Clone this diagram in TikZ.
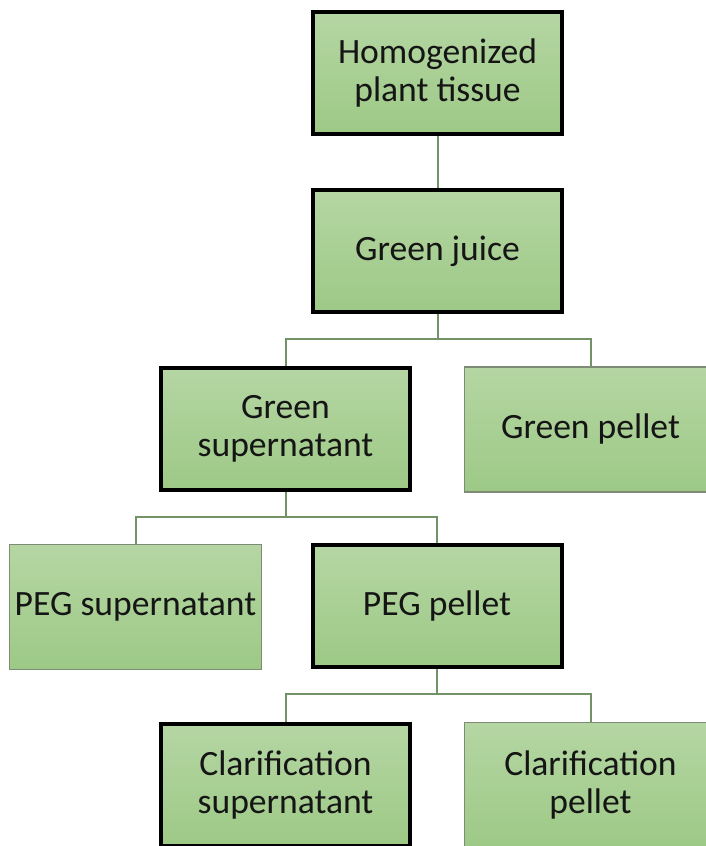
\documentclass[tikz,border=0pt]{standalone}
\usepackage{fontspec}
\setmainfont{Carlito}
\usetikzlibrary{backgrounds}
\definecolor{boxtop}{HTML}{B5D6A3}
\definecolor{boxbot}{HTML}{9DC986}
\definecolor{conncol}{HTML}{739366}
\definecolor{thinborder}{HTML}{7E8C77}
\definecolor{txt}{HTML}{151515}
\tikzset{
  box/.style={rectangle, top color=boxtop, bottom color=boxbot, align=center,
    inner sep=0pt, text=txt, font=\fontsize{26.7pt}{28.5pt}\selectfont},
  thickbox/.style={box, draw=black, line width=3pt, minimum width=186.75pt, minimum height=91.5pt},
  thinbox/.style={box, draw=thinborder, line width=1.1pt, minimum width=189pt, minimum height=93.75pt},
  conn/.style={draw=conncol, line width=1.5pt}
}
\begin{document}
\begin{tikzpicture}[x=0.75pt,y=-0.75pt]
\useasboundingbox (0,0) rectangle (706,846);
\clip (0,0) rectangle (706,846);
\node[thickbox] (b1) at (437.5,73) {Homogenized\\plant tissue};
\node[thickbox] (b2) at (437.5,251) {Green juice};
\node[thickbox] (gs) at (285.5,428.5) {Green\\supernatant};
\node[thinbox] (gp) at (590.5,429.5) {Green pellet};
\node[thinbox] (ps) at (135.5,607) {PEG supernatant};
\node[thickbox] (pp) at (437,606) {PEG pellet};
\node[thickbox] (cs) at (285.5,785) {Clarification\\supernatant};
\node[thinbox] (cp) at (590.5,785) {Clarification\\pellet};
\begin{scope}[on background layer]
\draw[conn] (b1.south) -- (b2.north);
\draw[conn] (b2.south) -- ++(0,25) coordinate (j1) -| (gs.north);
\draw[conn] (j1) -| (gp.north);
\draw[conn] (gs.south) -- ++(0,25) coordinate (j2) -| (ps.north);
\draw[conn] (j2) -| (pp.north);
\draw[conn] (pp.south) -- ++(0,25) coordinate (j3) -| (cs.north);
\draw[conn] (j3) -| (cp.north);
\end{scope}
\end{tikzpicture}
\end{document}
